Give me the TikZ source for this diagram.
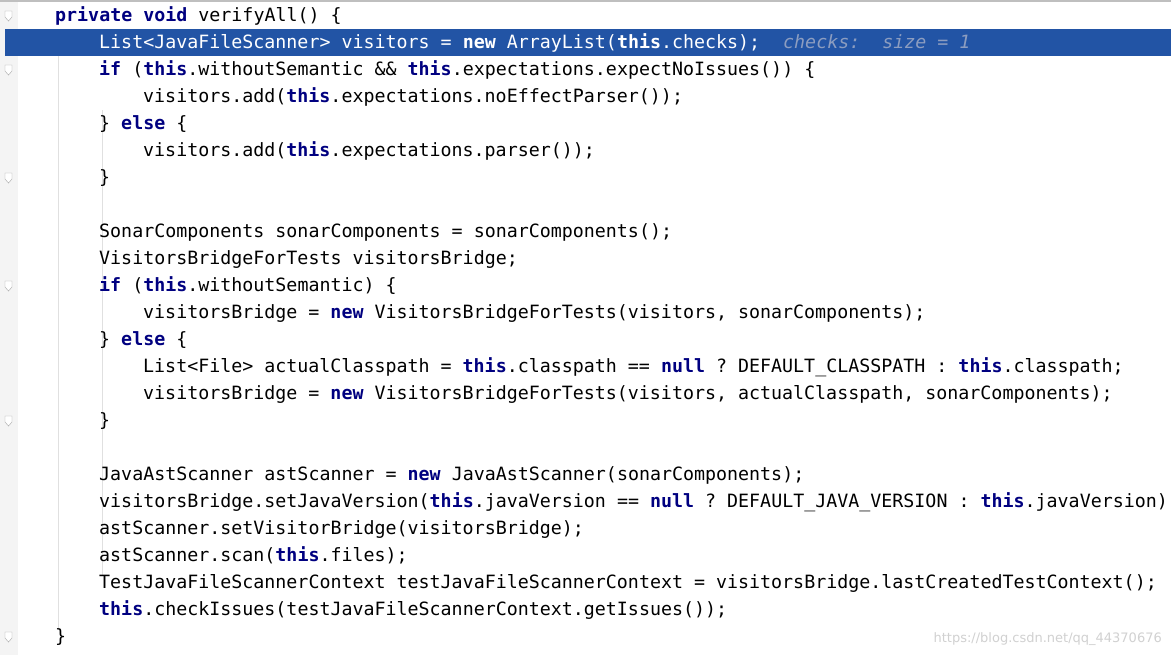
\documentclass[tikz,border=0pt]{standalone}
\usepackage{fontspec}
\setmonofont{DejaVu Sans Mono}
\setsansfont{DejaVu Sans}
\definecolor{kwblue}{HTML}{000080}
\definecolor{selblue}{HTML}{2254A5}
\definecolor{hintgray}{HTML}{8C9DC0}
\definecolor{guttercol}{HTML}{F4F4F4}
\newcommand{\kw}[1]{\textcolor{kwblue}{\bfseries #1}}
\newcommand{\kwsel}[1]{{\bfseries #1}}
\begin{document}
\begin{tikzpicture}[x=1pt,y=1pt,inner sep=0pt,
  code/.style={anchor=base west,font=\ttfamily\fontsize{18.3}{20}\selectfont},
  guide/.style={draw=black!12,line width=0.8pt}]
\useasboundingbox (0,0) rectangle (1171,655);
\fill[white] (0,0) rectangle (1171,655);
\fill[guttercol] (0,0) rectangle (18,655);
\draw[black!25,line width=1.5pt] (0,654) -- (1171,654);
\fill[selblue] (5,626) rectangle (1171,599);
% indent guides
\draw[guide] (58,599) -- (58,25);
\draw[guide] (102,80) -- (102,545);
\draw[guide] (102,276) -- (102,248);
\draw[guide] (102,357) -- (102,302);
\foreach \y in {655-16,655-70,655-178,655-286,655-421,655-637}
  \draw[black!35,fill=white] (5,\y+5) -- (12,\y+5) -- (12,\y-1) -- (8.5,\y-5) -- (5,\y-1) -- cycle;
% code lines
\node[code] (l1) at (55,633) {\kw{private} \kw{void} verifyAll() \{};
\node[code,text=white] (l2) at (99,606) {List<JavaFileScanner> visitors = \kwsel{new} ArrayList(\kwsel{this}.checks);};
\node[code,text=hintgray,font=\ttfamily\itshape\fontsize{18.3}{20}\selectfont] (hint) at (783,606) {checks:\ \ size = 1};
\node[code] (l3) at (99,579) {\kw{if} (\kw{this}.withoutSemantic \&\& \kw{this}.expectations.expectNoIssues()) \{};
\node[code] (l4) at (143,552) {visitors.add(\kw{this}.expectations.noEffectParser());};
\node[code] (l5) at (99,525) {\} \kw{else} \{};
\node[code] (l6) at (143,498) {visitors.add(\kw{this}.expectations.parser());};
\node[code] (l7) at (99,471) {\}};
\node[code] (l9) at (99,417) {SonarComponents sonarComponents = sonarComponents();};
\node[code] (l10) at (99,390) {VisitorsBridgeForTests visitorsBridge;};
\node[code] (l11) at (99,363) {\kw{if} (\kw{this}.withoutSemantic) \{};
\node[code] (l12) at (143,336) {visitorsBridge = \kw{new} VisitorsBridgeForTests(visitors, sonarComponents);};
\node[code] (l13) at (99,309) {\} \kw{else} \{};
\node[code] (l14) at (143,282) {List<File> actualClasspath = \kw{this}.classpath == \kw{null} ? DEFAULT\_CLASSPATH : \kw{this}.classpath;};
\node[code] (l15) at (143,255) {visitorsBridge = \kw{new} VisitorsBridgeForTests(visitors, actualClasspath, sonarComponents);};
\node[code] (l16) at (99,228) {\}};
\node[code] (l18) at (99,174) {JavaAstScanner astScanner = \kw{new} JavaAstScanner(sonarComponents);};
\node[code] (l19) at (99,147) {visitorsBridge.setJavaVersion(\kw{this}.javaVersion == \kw{null} ? DEFAULT\_JAVA\_VERSION : \kw{this}.javaVersion);};
\node[code] (l20) at (99,120) {astScanner.setVisitorBridge(visitorsBridge);};
\node[code] (l21) at (99,93) {astScanner.scan(\kw{this}.files);};
\node[code] (l22) at (99,66) {TestJavaFileScannerContext testJavaFileScannerContext = visitorsBridge.lastCreatedTestContext();};
\node[code] (l23) at (99,39) {\kw{this}.checkIssues(testJavaFileScannerContext.getIssues());};
\node[code] (l24) at (55,12) {\}};
\node[anchor=base east,font=\sffamily\fontsize{13}{14}\selectfont,text=black!18] (wm) at (1162,12) {https://blog.csdn.net/qq\_44370676};
\end{tikzpicture}
\end{document}
